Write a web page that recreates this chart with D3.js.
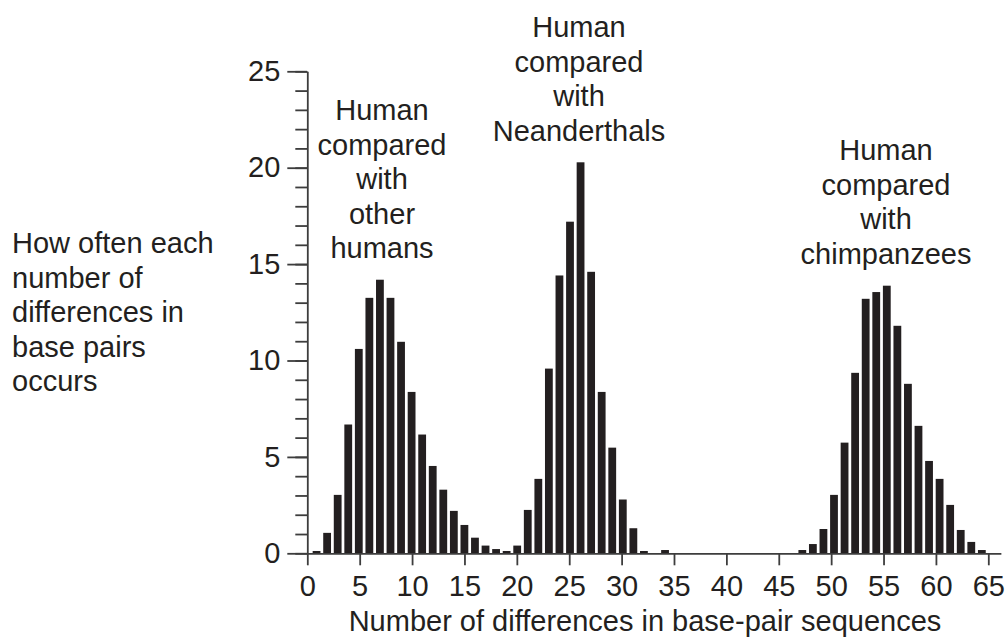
<!DOCTYPE html>
<html>
<meta charset="utf-8">
<head>
    <script src="https://d3js.org/d3.v7.min.js"></script>
    <style>
        body { margin: 0; background: white; }
        text { font-family: "Liberation Sans", Arial, Helvetica, sans-serif; fill: #231f20; }
    </style>
</head>
<body>
    <script>

        // counts per number of differences
        var humansStart = 1;
        var humansVsHumans = [0.12, 1.06, 3.03, 6.68, 10.6, 13.25, 14.19, 13.25, 10.97, 8.37,
                              6.16, 4.53, 3.3, 2.2, 1.47, 0.81, 0.4, 0.22, 0.12];

        var neanderStart = 20;
        var humansVsNeanderthals = [0.4, 2.25, 3.86, 9.58, 14.41, 17.2, 20.28, 14.6, 8.37, 5.48,
                                    2.79, 1.3, 0.12, 0, 0.17];

        var chimpStart = 47;
        var humansVsChimps = [0.17, 0.48, 1.26, 3.03, 5.74, 9.36, 13.2, 13.55, 13.88, 11.8,
                              8.79, 6.61, 4.79, 3.86, 2.51, 1.21, 0.59, 0.17];

        var xTicks = d3.range(0, 66, 5);
        var yTicks = d3.range(0, 26, 5);
        var yMinor = d3.range(0, 26, 1);

        var yLabel = ["How often each", "number of", "differences in", "base pairs", "occurs"];
        var xLabel = "Number of differences in base-pair sequences";
        var notes = [
            {lines: ["Human", "compared", "with", "other", "humans"], x: 382, y: 120},
            {lines: ["Human", "compared", "with", "Neanderthals"], x: 579, y: 37},
            {lines: ["Human", "compared", "with", "chimpanzees"], x: 886, y: 160}
        ];

        var width = 1007,
            height = 643,
            ink = "#231f20",
            axisColor = "#3d3d3d";

        var svg = d3.select("body").append("svg")
            .attr("width", width)
            .attr("height", height);

        var x = d3.scaleLinear()
            .domain([0, 66.2])
            .range([307.3, 307.3 + 66.2 * 10.477]);

        // bar centres sit on a slightly wider pitch than the ticks
        var xBar = d3.scaleLinear()
            .domain([0, 65])
            .range([306, 306 + 65 * 10.56]);

        var y = d3.scaleLinear()
            .domain([0, 25])
            .range([553.3, 71.3]);

        function toBars(vals, start) {
            return vals.map(function(v, i) { return {n: start + i, v: v}; });
        }
        var bars = toBars(humansVsHumans, humansStart)
            .concat(toBars(humansVsNeanderthals, neanderStart))
            .concat(toBars(humansVsChimps, chimpStart))
            .filter(function(d) { return d.v > 0; });

        var barW = 7.8;

        svg.append("g").selectAll("rect")
            .data(bars)
            .enter()
            .append("rect")
            .attr("x", d => xBar(d.n) - barW / 2)
            .attr("y", d => y(d.v))
            .attr("width", barW)
            .attr("height", d => y(0) - y(d.v))
            .attr("fill", ink);

        // y axis: minor ticks, then major ticks with labels
        var yMinorAxis = svg.append("g")
            .attr("transform", "translate(" + x(0) + ",0)")
            .call(d3.axisLeft(y).tickValues(yMinor).tickSize(12).tickSizeOuter(0).tickFormat(""));
        yMinorAxis.select(".domain").remove();

        var yAxis = svg.append("g")
            .attr("transform", "translate(" + x(0) + ",0)")
            .call(d3.axisLeft(y).tickValues(yTicks).tickSize(20).tickSizeOuter(0).tickPadding(7));

        var xAxis = svg.append("g")
            .attr("transform", "translate(0," + y(0) + ")")
            .call(d3.axisBottom(x).tickValues(xTicks).tickSize(12).tickSizeOuter(0).tickPadding(10));

        svg.selectAll(".domain, .tick line")
            .attr("stroke", axisColor)
            .attr("stroke-width", 1.8);

        svg.selectAll(".tick text")
            .attr("font-size", 29)
            .attr("fill", ink)
            .style("font-family", "'Liberation Sans', Arial, Helvetica, sans-serif");

        // left description
        var yl = svg.append("text")
            .attr("x", 12)
            .attr("y", 253)
            .attr("font-size", 29);
        yl.selectAll("tspan")
            .data(yLabel)
            .enter()
            .append("tspan")
            .attr("x", 12)
            .attr("dy", (d, i) => i == 0 ? 0 : 34.5)
            .text(d => d);

        svg.append("text")
            .attr("x", 645)
            .attr("y", 631)
            .attr("text-anchor", "middle")
            .attr("font-size", 29)
            .text(xLabel);

        notes.forEach(function(n) {
            var t = svg.append("text")
                .attr("x", n.x)
                .attr("y", n.y)
                .attr("text-anchor", "middle")
                .attr("font-size", 29);
            t.selectAll("tspan")
                .data(n.lines)
                .enter()
                .append("tspan")
                .attr("x", n.x)
                .attr("dy", (d, i) => i == 0 ? 0 : 34.5)
                .text(d => d);
        });

    </script>
</body>
</html>
